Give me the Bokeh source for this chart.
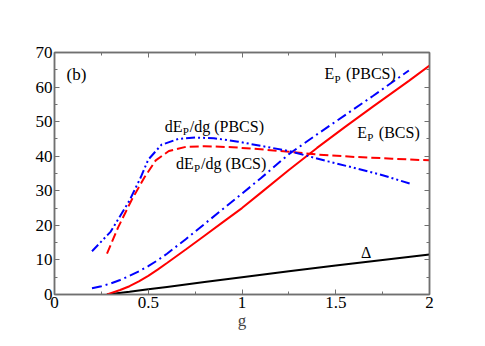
from bokeh.plotting import figure
from bokeh.models import LinearAxis, Range1d, FixedTicker
from bokeh.core.properties import value
from bokeh.embed import file_html
from bokeh.resources import INLINE

# ---- data ----
g_delta = [0.28, 0.30, 0.40, 0.50, 0.60, 0.80, 1.00, 1.25, 1.50, 1.75, 2.00]
delta = [0.0, 0.15, 0.8, 1.5, 2.2, 3.6, 5.0, 6.7, 8.4, 10.0, 11.6]

g_ep_bcs = [0.28, 0.30, 0.35, 0.40, 0.45, 0.50, 0.55, 0.60, 0.70, 0.80, 0.90, 1.00, 1.10, 1.25, 1.40, 1.55, 1.70, 1.89, 2.00]
ep_bcs = [0.0, 0.4, 1.3, 2.4, 3.8, 5.4, 7.2, 9.1, 13.0, 17.0, 21.0, 25.0, 29.4, 36.0, 42.4, 48.5, 54.4, 61.8, 66.2]

g_ep_pbcs = [0.20, 0.25, 0.30, 0.35, 0.40, 0.45, 0.50, 0.55, 0.60, 0.70, 0.80, 0.90, 1.00, 1.10, 1.25, 1.40, 1.55, 1.70, 1.89]
ep_pbcs = [1.8, 2.4, 3.2, 4.2, 5.4, 6.7, 8.2, 9.9, 11.8, 16.0, 20.4, 24.8, 29.2, 33.6, 40.6, 46.3, 51.9, 57.5, 64.8]

g_dep_bcs = [0.28, 0.34, 0.41, 0.48, 0.54, 0.61, 0.70, 0.80, 0.95, 1.10, 1.25, 1.40, 1.60, 1.80, 2.00]
dep_bcs = [11.8, 19.5, 27.2, 33.9, 38.8, 41.5, 42.7, 42.9, 42.6, 42.0, 41.3, 40.5, 39.8, 39.3, 38.8]

g_dep_pbcs = [0.20, 0.30, 0.40, 0.46, 0.50, 0.57, 0.66, 0.75, 0.85, 0.98, 1.10, 1.25, 1.46, 1.60, 1.75, 1.90]
dep_pbcs = [12.5, 18.2, 27.2, 33.9, 39.0, 43.3, 45.0, 45.4, 45.2, 44.2, 43.0, 41.5, 38.5, 36.6, 34.5, 32.0]

x_ticks = [0, 0.5, 1, 1.5, 2]
x_tick_labels = ["0", "0.5", "1", "1.5", "2"]
x_minor = [0.25, 0.75, 1.25, 1.75]
y_ticks = [0, 10, 20, 30, 40, 50, 60, 70]
y_minor = [5, 15, 25, 35, 45, 55, 65]

# annotation anchors (data coords): (text before subscript, subscript, text after, x, y)
labels = [
    ("dE", "P", "/dg (PBCS)", 0.588, 48.6),
    ("dE", "P", "/dg (BCS)", 0.648, 37.9),
    ("E", "P", "(PBCS)", 1.44, 63.8),
    ("E", "P", "(BCS)", 1.615, 46.9),
]
panel_label = ("(b)", 0.064, 63.6)
delta_label = ("\u0394", 1.635, 12.2)

FONT = "Liberation Serif"
GRAY = "#707070"

p = figure(frame_width=375, frame_height=242,
           min_border_left=54, min_border_right=40, min_border_top=52, min_border_bottom=36,
           x_range=Range1d(0, 2), y_range=Range1d(0, 70),
           output_backend="svg", toolbar_location=None, tools="")
p.grid.visible = False
p.outline_line_color = GRAY
p.outline_line_width = 1.5

def style_axis(ax, show_labels):
    ax.axis_line_color = GRAY
    ax.axis_line_width = 1.5
    ax.major_tick_line_color = GRAY
    ax.minor_tick_line_color = GRAY
    ax.major_tick_in = 5
    ax.major_tick_out = 0
    ax.minor_tick_in = 3
    ax.minor_tick_out = 0
    ax.major_label_text_font = FONT
    ax.major_label_text_font_size = "17px"
    ax.major_label_text_color = "black"
    ax.major_label_standoff = 2 if show_labels else 0

xa = p.xaxis[0]
xa.ticker = FixedTicker(ticks=x_ticks, minor_ticks=x_minor)
xa.major_label_overrides = {t: l for t, l in zip(x_ticks, x_tick_labels)}
style_axis(xa, True)
xa.axis_label = "g"
xa.axis_label_text_font = FONT
xa.axis_label_text_font_style = "normal"
xa.axis_label_text_font_size = "17px"
xa.axis_label_standoff = 0

ya = p.yaxis[0]
ya.ticker = FixedTicker(ticks=y_ticks, minor_ticks=y_minor)
style_axis(ya, True)

top = LinearAxis(ticker=FixedTicker(ticks=x_ticks, minor_ticks=x_minor))
style_axis(top, False)
top.major_label_overrides = {t: "" for t in x_ticks}
p.add_layout(top, "above")
right = LinearAxis(ticker=FixedTicker(ticks=y_ticks, minor_ticks=y_minor))
style_axis(right, False)
right.major_label_overrides = {t: "" for t in y_ticks}
p.add_layout(right, "right")

# curves
p.line(g_delta, delta, line_color="black", line_width=2)
p.line(g_ep_bcs, ep_bcs, line_color="#ff0000", line_width=2)
p.line(g_ep_pbcs, ep_pbcs, line_color="#0000ff", line_width=2, line_dash="10 4 2 4")
p.line(g_dep_bcs, dep_bcs, line_color="#ff0000", line_width=2, line_dash="9 4")
p.line(g_dep_pbcs, dep_pbcs, line_color="#0000ff", line_width=2, line_dash="9 3 2 3 2 3")

# text annotations
def add_text(txt, x, y, size, dx=0, dy=0):
    p.text(x=[x], y=[y], text=[txt], text_font=value(FONT), text_font_size=size,
           text_color="black", text_baseline="alphabetic", text_align="left",
           x_offset=dx, y_offset=dy)

w_main = {"dE": 18.0, "E": 10.0}
for pre, sub, post, x, y in labels:
    w = w_main[pre]
    gap = 0 if post.startswith("/") else 4.5
    add_text(pre, x, y, "16px")
    add_text(sub, x, y, "11px", dx=w, dy=5)
    add_text(post, x, y, "16px", dx=w + 7 + gap)

add_text(panel_label[0], panel_label[1], panel_label[2], "17px")
add_text(delta_label[0], delta_label[1], delta_label[2], "16px")

open("out.html", "w").write(file_html(p, INLINE))
